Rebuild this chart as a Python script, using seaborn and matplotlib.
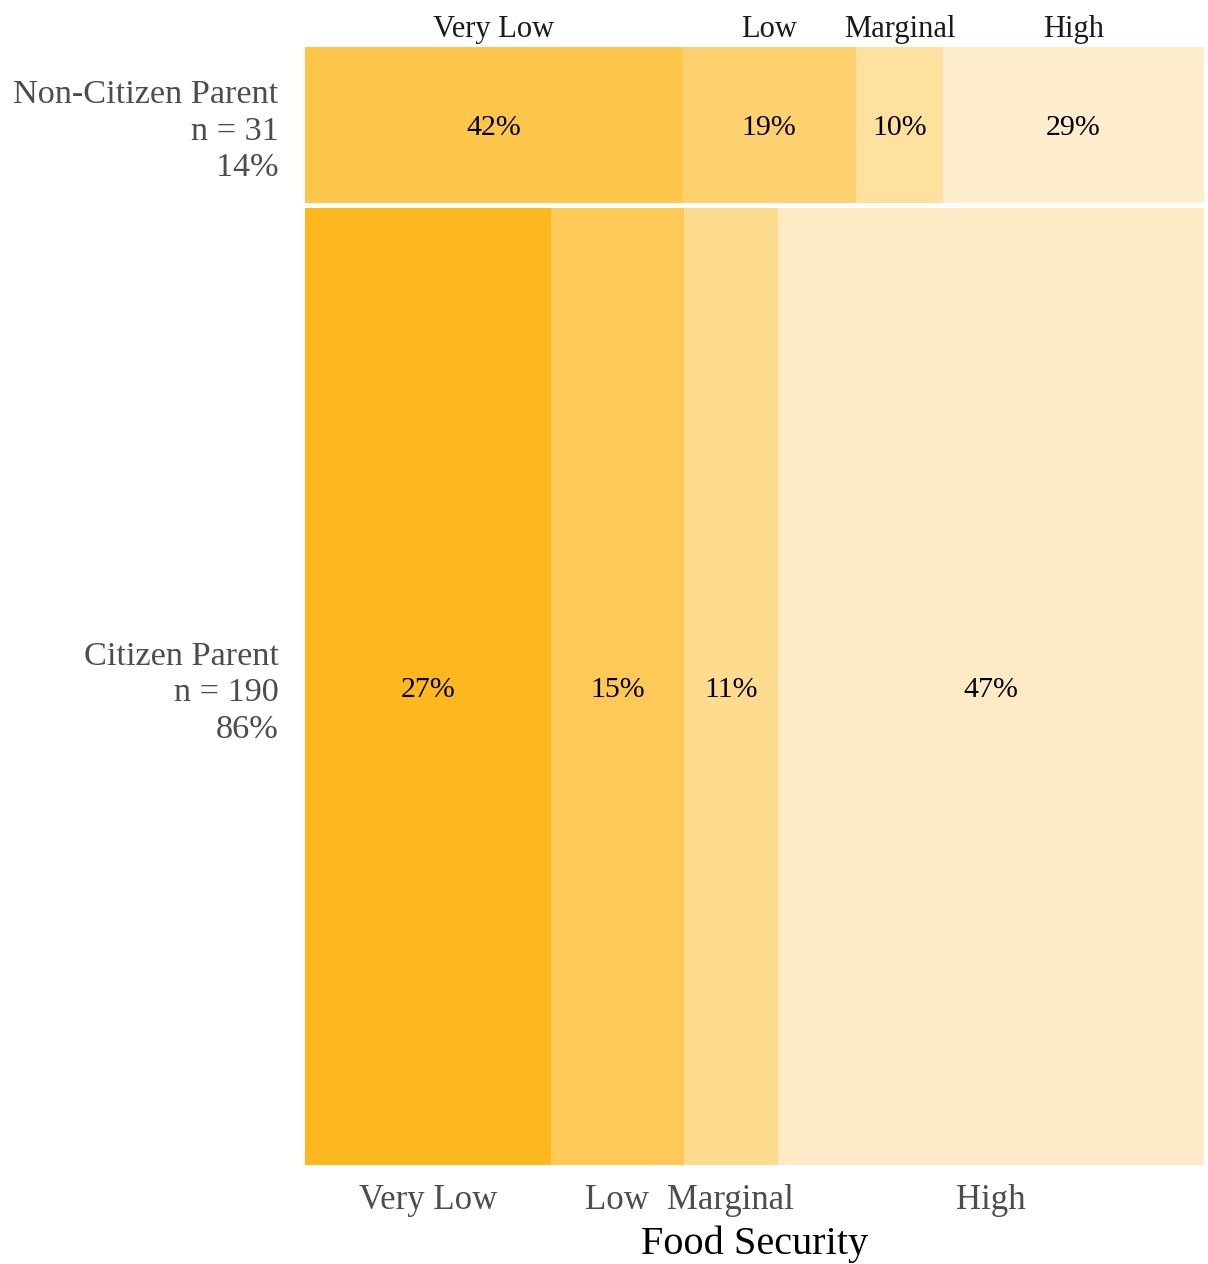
import numpy as np
import pandas as pd
import matplotlib
matplotlib.use("Agg")
import matplotlib.pyplot as plt
import seaborn as sns

# ---- data ----
categories = ["Very Low", "Low", "Marginal", "High"]
groups = ["Citizen Parent", "Non-Citizen Parent"]
citizen_counts = [52, 28, 20, 90]
noncitizen_counts = [13, 6, 3, 9]
citizen_colors = ["#FDB71F", "#FEC957", "#FEDB8F", "#FEEBC6"]
noncitizen_colors = ["#FEC54B", "#FED170", "#FEE09F", "#FEEECE"]

sns.set_theme(style="white")
plt.rcParams["font.family"] = ["Liberation Serif", "DejaVu Serif"]

counts = {"Citizen Parent": citizen_counts, "Non-Citizen Parent": noncitizen_counts}
colors = {"Citizen Parent": citizen_colors, "Non-Citizen Parent": noncitizen_colors}
totals = {g: sum(counts[g]) for g in groups}
grand = sum(totals.values())

fig = plt.figure(figsize=(12.08, 12.64), dpi=100)
ax = fig.add_axes([305/1208, 1-1165/1264, (1204-305)/1208, (1165-47)/1264])

gap = 5/1113
row_bottom = {}
row_height = {}
yb = 0.0
for g in groups:
    h = totals[g] / grand
    row_bottom[g] = yb
    row_height[g] = h
    yb += h + gap

centers = {}
for g in groups:
    props = np.array(counts[g]) / totals[g]
    lefts = np.concatenate([[0], np.cumsum(props)[:-1]])
    ax.barh(y=row_bottom[g], width=props, left=lefts, height=row_height[g],
            align="edge", color=colors[g], edgecolor="none", linewidth=0)
    cx = lefts + props / 2
    centers[g] = cx
    cy = row_bottom[g] + row_height[g] / 2
    for x, p in zip(cx, props):
        ax.text(x, cy, f"{round(p*100):.0f}%", ha="center", va="center_baseline",
                fontsize=21.5, color="black")

ax.set_xlim(0, 1)
ax.set_ylim(0, yb - gap)
for s in ax.spines.values():
    s.set_visible(False)

# bottom ticks: citizen centers
ax.set_xticks(centers["Citizen Parent"])
ax.set_xticklabels(categories, fontsize=25, color="#4D4D4D")
ax.tick_params(axis="x", length=0, pad=14)
ax.set_xlabel("Food Security", fontsize=29, color="black", labelpad=6)

# y ticks
ax.set_yticks([row_bottom[g] + row_height[g] / 2 for g in groups])
ylabels = [f"{g}\nn = {totals[g]}\n{round(totals[g]/grand*100)}%" for g in groups]
ax.set_yticklabels(ylabels, fontsize=24.7, color="#4D4D4D", linespacing=1.25)
ax.tick_params(axis="y", length=0, pad=19)

# top ticks: non-citizen centers
top = ax.secondary_xaxis("top")
top.set_xticks(centers["Non-Citizen Parent"])
top.set_xticklabels(categories, fontsize=22, color="#1A1A1A")
top.tick_params(length=0, pad=2)
for s in top.spines.values():
    s.set_visible(False)

fig.savefig("out.png", dpi=100, facecolor="white")
